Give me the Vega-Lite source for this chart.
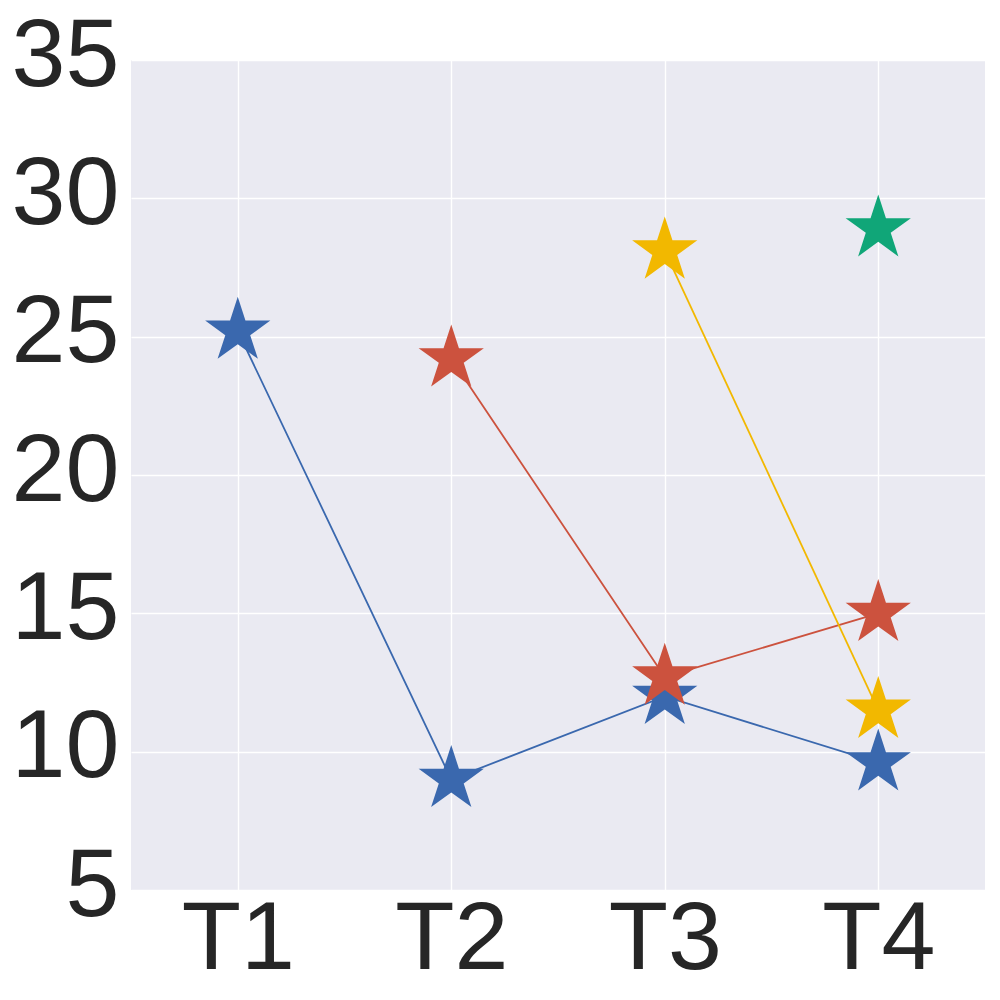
{
  "$schema": "https://vega.github.io/schema/vega-lite/v6.json",
  "width": 854,
  "height": 830,
  "autosize": {"type": "none"},
  "padding": {"left": 131, "top": 60, "right": 15, "bottom": 110},
  "background": "white",
  "config": {
    "view": {"fill": "#eaeaf2", "stroke": null},
    "font": "Liberation Sans",
    "axis": {
      "domain": false,
      "ticks": false,
      "labelFontSize": 97,
      "labelColor": "#262626",
      "labelFont": "Liberation Sans",
      "gridColor": "#ffffff",
      "gridWidth": 1.4,
      "gridOpacity": 1,
      "title": null
    }
  },
  "data": {
    "values": [
      {"series": "A", "t": "T1", "value": 25.2},
      {"series": "A", "t": "T2", "value": 9.0},
      {"series": "A", "t": "T3", "value": 12.0},
      {"series": "A", "t": "T4", "value": 9.6},
      {"series": "B", "t": "T2", "value": 24.2},
      {"series": "B", "t": "T3", "value": 12.7},
      {"series": "B", "t": "T4", "value": 15.0},
      {"series": "C", "t": "T3", "value": 28.1},
      {"series": "C", "t": "T4", "value": 11.5},
      {"series": "D", "t": "T4", "value": 28.9}
    ]
  },
  "encoding": {
    "x": {
      "field": "t",
      "type": "ordinal",
      "scale": {"type": "point", "padding": 0.5, "domain": ["T1", "T2", "T3", "T4"]},
      "axis": {"labelAngle": 0, "labelPadding": 1, "grid": true}
    },
    "y": {
      "field": "value",
      "type": "quantitative",
      "scale": {"domain": [5, 35], "nice": false, "zero": false},
      "axis": {"values": [5, 10, 15, 20, 25, 30, 35], "labelPadding": 12, "labelOffset": -4, "grid": true}
    },
    "color": {
      "field": "series",
      "type": "nominal",
      "scale": {"domain": ["A", "B", "C", "D"], "range": ["#3a68ae", "#cc523e", "#f2b800", "#10a678"]},
      "legend": null
    }
  },
  "layer": [
    {"mark": {"type": "line", "strokeWidth": 1.8}},
    {
      "mark": {
        "type": "point",
        "filled": true,
        "opacity": 1,
        "strokeWidth": 0,
        "size": 4700,
        "shape": "M0,-1L0.2245,-0.309L0.9511,-0.309L0.3633,0.118L0.5878,0.809L0,0.382L-0.5878,0.809L-0.3633,0.118L-0.9511,-0.309L-0.2245,-0.309Z"
      }
    }
  ]
}
